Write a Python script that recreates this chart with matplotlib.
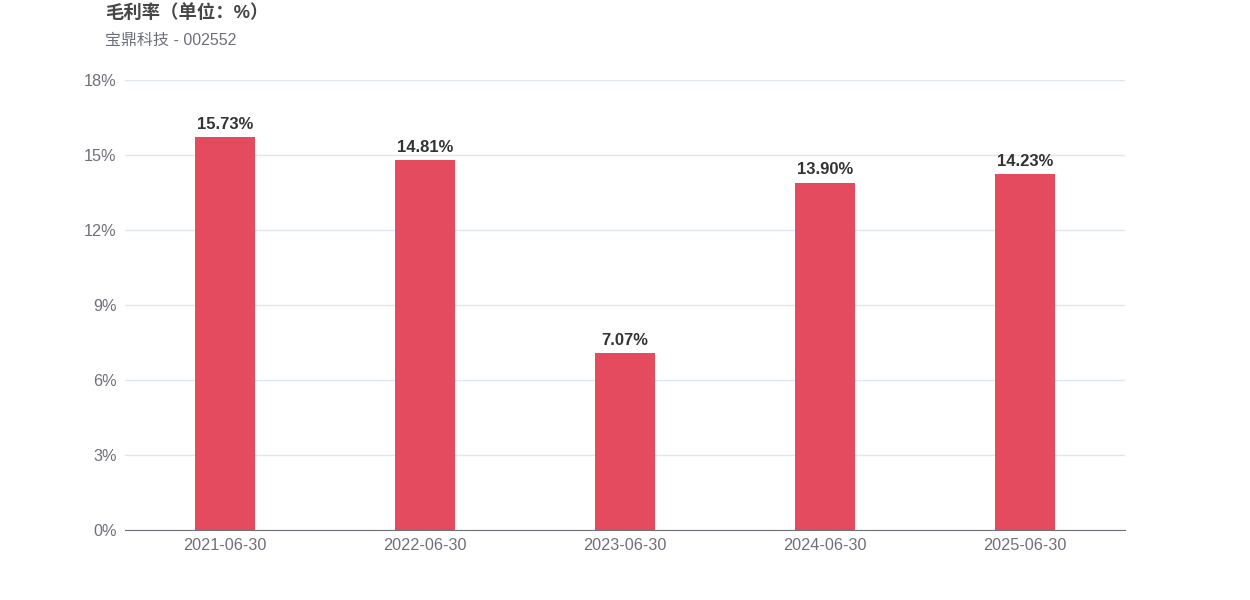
import matplotlib
matplotlib.use('Agg')
import matplotlib.pyplot as plt

# 数据
fechas = ['2021-06-30', '2022-06-30', '2023-06-30', '2024-06-30', '2025-06-30']
margen = [15.73, 14.81, 7.07, 13.90, 14.23]
ticks_y = [0, 3, 6, 9, 12, 15, 18]

plt.rcParams['font.family'] = ['Liberation Sans', 'Noto Sans CJK SC', 'DejaVu Sans']

fig = plt.figure(figsize=(12.5, 6), dpi=100)
ax = fig.add_axes([0.1, 1 - 530 / 600, 0.8, 450 / 600])

x = list(range(len(fechas)))
ax.bar(x, margen, width=0.3, color='#E54B5E', zorder=3)

for xi, v in zip(x, margen):
    ax.text(xi, v + 0.2, '{:.2f}%'.format(v), ha='center', va='bottom',
            fontsize=12, fontweight='bold', color='#333333')

ax.set_xlim(-0.5, len(fechas) - 0.5)
ax.set_ylim(0, 18)
ax.set_yticks(ticks_y)
ax.set_yticklabels(['{}%'.format(t) for t in ticks_y])
ax.set_xticks(x)
ax.set_xticklabels(fechas)
ax.tick_params(axis='both', length=0, labelsize=11.7, labelcolor='#6E7079')
ax.tick_params(axis='y', pad=6)
ax.tick_params(axis='x', pad=6)

ax.grid(axis='y', color='#E0E6F1', linewidth=1, zorder=0)
for s in ['top', 'right', 'left']:
    ax.spines[s].set_visible(False)
ax.spines['bottom'].set_color('#6E7079')
ax.spines['bottom'].set_zorder(4)

fig.text(105 / 1250, 1 - 13 / 600, '毛利率（单位：%）', fontsize=13.2, fontweight='bold',
         color='#464646', va='center', ha='left',
         family=['Liberation Sans', 'Noto Sans CJK SC', 'DejaVu Sans'])
fig.text(105 / 1250, 1 - 40 / 600, '宝鼎科技 - 002552', fontsize=11.5,
         color='#6E7079', va='center', ha='left',
         family=['Liberation Sans', 'Noto Sans CJK SC', 'DejaVu Sans'])

fig.savefig('out.png', dpi=100)
